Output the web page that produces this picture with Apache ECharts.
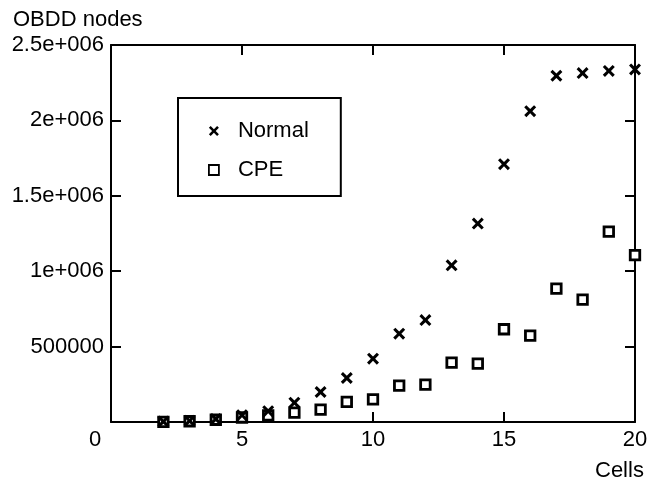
<!DOCTYPE html>
<html>
<head>
<meta charset="utf-8">
<script src="https://cdn.jsdelivr.net/npm/echarts@6/dist/echarts.min.js"></script>
<style>
html,body{margin:0;padding:0;background:#fff;}
#chart{width:660px;height:484px;}
</style>
</head>
<body>
<div id="chart"></div>
<script>
var cells = [2, 3, 4, 5, 6, 7, 8, 9, 10, 11, 12, 13, 14, 15, 16, 17, 18, 19, 20];
var normalNodes = [3000, 8000, 20000, 45000, 72000, 128000, 199000, 292000, 420000, 586000, 676000, 1039000, 1316000, 1710000, 2061000, 2296000, 2314000, 2328000, 2338000];
var cpeNodes = [1000, 5000, 15000, 30000, 44000, 62000, 82000, 133000, 150000, 241000, 248000, 394000, 387000, 615000, 573000, 885000, 812000, 1263000, 1107000];
var xTickLabels = ['0', '5', '10', '15', '20'];
var yTickLabels = ['', '500000', '1e+006', '1.5e+006', '2e+006', '2.5e+006'];
var seriesNames = ['Normal', 'CPE'];
var yAxisTitle = 'OBDD nodes';
var xAxisTitle = 'Cells';

var FONT = 'Liberation Sans, Arial, Helvetica, sans-serif';
var crossPath = 'path://M0,1.8L1.8,0L5,3.2L8.2,0L10,1.8L6.8,5L10,8.2L8.2,10L5,6.8L1.8,10L0,8.2L3.2,5Z';
var squarePath = 'path://M0,0L10,0L10,10L0,10Z';

function pairs(xs, ys) { return xs.map(function (x, i) { return [x, ys[i]]; }); }

var chart = echarts.init(document.getElementById('chart'), null, {renderer: 'canvas'});
var axisLineStyle = {color: '#000', width: 2};
function frameAxis(extra) {
  var base = {
    axisLine: {show: true, onZero: false, lineStyle: axisLineStyle},
    axisTick: {show: true, inside: true, length: 10, lineStyle: axisLineStyle},
    splitLine: {show: false}
  };
  for (var k in extra) base[k] = extra[k];
  return base;
}
chart.setOption({
  animation: false,
  backgroundColor: '#fff',
  textStyle: {fontFamily: FONT, color: '#000'},
  title: [
    {text: yAxisTitle, left: 13, top: 9, padding: 0,
     textStyle: {fontFamily: FONT, fontSize: 22, fontWeight: 'normal', color: '#000', lineHeight: 22}},
    {text: xAxisTitle, left: 595, top: 460, padding: 0,
     textStyle: {fontFamily: FONT, fontSize: 22, fontWeight: 'normal', color: '#000', lineHeight: 22}}
  ],
  legend: {
    data: [
      {name: seriesNames[0], icon: crossPath, itemStyle: {color: '#000', borderWidth: 0}},
      {name: seriesNames[1], icon: squarePath, itemStyle: {color: '#fff', borderColor: '#000', borderWidth: 1.8}}
    ],
    orient: 'vertical',
    left: 178, top: 98,
    padding: [22, 32, 15, 30],
    itemGap: 17,
    itemWidth: 38, itemHeight: 10,
    borderColor: '#000', borderWidth: 2,
    backgroundColor: '#fff',
    selectedMode: false,
    textStyle: {fontFamily: FONT, fontSize: 22, color: '#000', lineHeight: 22}
  },
  grid: {left: 111, right: 25, top: 45, bottom: 62},
  xAxis: [
    frameAxis({type: 'value', min: 0, max: 20, interval: 5, position: 'bottom',
     axisLabel: {margin: 7, fontFamily: FONT, fontSize: 22, color: '#000',
       formatter: function (v) {
         var s = xTickLabels[Math.round(v / 5)];
         return v === 0 ? '{z|' + s + '}' : s;
       },
       rich: {z: {fontFamily: FONT, fontSize: 22, color: '#000', padding: [0, 32, 0, 0]}}
     }}),
    frameAxis({type: 'value', min: 0, max: 20, interval: 5, position: 'top',
     axisLabel: {show: false}})
  ],
  yAxis: [
    frameAxis({type: 'value', min: 0, max: 2500000, interval: 500000, position: 'left',
     axisLabel: {margin: 7, fontFamily: FONT, fontSize: 22, color: '#000',
       formatter: function (v) { return yTickLabels[Math.round(v / 500000)]; }}}),
    frameAxis({type: 'value', min: 0, max: 2500000, interval: 500000, position: 'right',
     axisLabel: {show: false}})
  ],
  series: [
    {name: seriesNames[1], type: 'scatter', data: pairs(cells, cpeNodes),
     symbol: squarePath, symbolSize: 9.5, symbolKeepAspect: true,
     itemStyle: {color: '#fff', borderColor: '#000', borderWidth: 2.8, opacity: 1},
     z: 2},
    {name: seriesNames[0], type: 'scatter', data: pairs(cells, normalNodes),
     symbol: crossPath, symbolSize: 12, symbolKeepAspect: true,
     itemStyle: {color: '#000', opacity: 1},
     z: 3}
  ]
});
</script>
</body>
</html>
